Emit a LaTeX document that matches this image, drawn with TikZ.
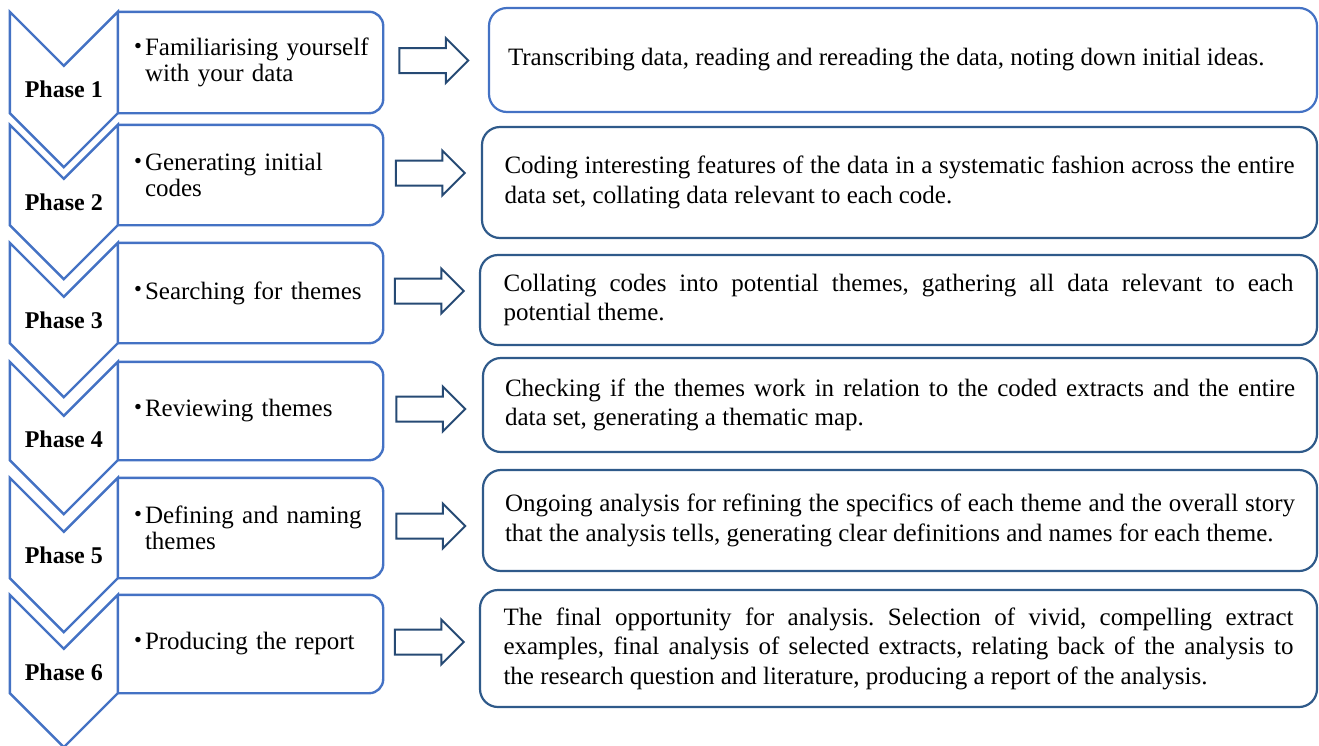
\documentclass[tikz,border=0pt]{standalone}
\usepackage{fontspec}
\setmainfont{Liberation Serif}
\usetikzlibrary{positioning,calc,shapes.arrows}
\definecolor{phaseblue}{RGB}{68,114,196}
\definecolor{taskblue}{RGB}{47,90,138}
\definecolor{arrowblue}{RGB}{38,74,116}
\newcommand{\stepitem}[1]{\hspace*{13.5pt}\makebox[11pt][l]{\raisebox{.1em}{\scalebox{.9}{\textbullet}}}\parbox[t]{230pt}{#1}}
\frenchspacing

\begin{document}
\begin{tikzpicture}[x=1pt, y=-1pt, font=\fontsize{25}{29.5}\selectfont]
  \tikzstyle{stepbox}=[rectangle, minimum width=265pt, text width=260pt, inner xsep=0pt, inner ysep=0pt, align=left, font=\fontsize{25}{26}\selectfont]
  \tikzstyle{stepframe}=[draw=phaseblue, line width=2.4pt, rounded corners=14pt]
  \tikzstyle{chevron}=[draw=phaseblue, line width=2.4pt, line join=miter, fill=white]
  \tikzstyle{phaselabel}=[font=\fontsize{24}{26}\selectfont\bfseries, inner sep=0pt]
  \tikzstyle{taskbox}=[rectangle, draw=taskblue, line width=2.2pt, rounded corners=18pt, text width=790pt, align=justify, inner sep=0pt]
  \tikzstyle{blockarrow}=[single arrow, draw=arrowblue, line width=2pt, fill=white, minimum height=69pt, inner xsep=0pt, inner ysep=11.5pt, single arrow head extend=10pt, xshift=-8pt, yshift=2pt]
  \useasboundingbox (0,0) rectangle (1319,745);

  \node[stepbox, minimum height=101pt] (s1) at (250.5,62.5) {\stepitem{Familiarising yourself\\with your data}};
  \node[stepbox, minimum height=100pt] (s2) at (250.5,175) {\stepitem{Generating initial\\codes}};
  \node[stepbox, minimum height=100pt] (s3) at (250.5,293) {\stepitem{Searching for themes}};
  \node[stepbox, minimum height=98pt] (s4) at (250.5,411) {\stepitem{Reviewing themes}};
  \node[stepbox, minimum height=100pt] (s5) at (250.5,528) {\stepitem{Defining and naming\\themes}};
  \node[stepbox, minimum height=98pt] (s6) at (250.5,644) {\stepitem{Producing the report}};

  \draw[stepframe] (s1.north west) -- (s1.north east) -- (s1.south east) -- (s1.south west);
  \draw[stepframe] (s2.north west) -- (s2.north east) -- (s2.south east) -- (s2.south west);
  \draw[stepframe] (s3.north west) -- (s3.north east) -- (s3.south east) -- (s3.south west);
  \draw[stepframe] (s4.north west) -- (s4.north east) -- (s4.south east) -- (s4.south west);
  \draw[stepframe] (s5.north west) -- (s5.north east) -- (s5.south east) -- (s5.south west);
  \draw[stepframe] (s6.north west) -- (s6.north east) -- (s6.south east) -- (s6.south west);

  \draw[chevron] (s1.north west) -- ++(-54,54) -- ++(-54,-54) -- ($(s1.south west)+(-108,0)$) -- ++(54,54) -- (s1.south west) -- cycle;
  \draw[chevron] (s2.north west) -- ++(-54,54) -- ++(-54,-54) -- ($(s2.south west)+(-108,0)$) -- ++(54,54) -- (s2.south west) -- cycle;
  \draw[chevron] (s3.north west) -- ++(-54,54) -- ++(-54,-54) -- ($(s3.south west)+(-108,0)$) -- ++(54,54) -- (s3.south west) -- cycle;
  \draw[chevron] (s4.north west) -- ++(-54,54) -- ++(-54,-54) -- ($(s4.south west)+(-108,0)$) -- ++(54,54) -- (s4.south west) -- cycle;
  \draw[chevron] (s5.north west) -- ++(-54,54) -- ++(-54,-54) -- ($(s5.south west)+(-108,0)$) -- ++(54,54) -- (s5.south west) -- cycle;
  \draw[chevron] (s6.north west) -- ++(-54,54) -- ++(-54,-54) -- ($(s6.south west)+(-108,0)$) -- ++(54,54) -- (s6.south west) -- cycle;

  \node[phaselabel] (ph1) at ($(s1.north west)+(-54,77)$) {Phase 1};
  \node[phaselabel] (ph2) at ($(s2.north west)+(-54,77)$) {Phase 2};
  \node[phaselabel] (ph3) at ($(s3.north west)+(-54,77)$) {Phase 3};
  \node[phaselabel] (ph4) at ($(s4.north west)+(-54,77)$) {Phase 4};
  \node[phaselabel] (ph5) at ($(s5.north west)+(-54,77)$) {Phase 5};
  \node[phaselabel] (ph6) at ($(s6.north west)+(-54,77)$) {Phase 6};

  \node[taskbox, draw=phaseblue, minimum width=828pt, minimum height=104pt] (d1) at (903,60) {Transcribing data, reading and rereading the data, noting down initial ideas.};
  \node[taskbox, minimum width=835pt, minimum height=111pt] (d2) at (899.5,182.5) {Coding interesting features of the data in a systematic fashion across the entire\linebreak data set, collating data relevant to each code.};
  \node[taskbox, minimum width=837pt, minimum height=90pt] (d3) at (898.5,300) {Collating codes into potential themes, gathering all data relevant to each\linebreak potential theme.};
  \node[taskbox, minimum width=834pt, minimum height=94pt] (d4) at (900,405) {Checking if the themes work in relation to the coded extracts and the entire\linebreak data set, generating a thematic map.};
  \node[taskbox, minimum width=834pt, minimum height=101pt] (d5) at (900,520.5) {Ongoing analysis for refining the specifics of each theme and the overall story\linebreak that the analysis tells, generating clear definitions and names for each theme.};
  \node[taskbox, minimum width=837pt, minimum height=117pt] (d6) at (898.5,648.5) {The final opportunity for analysis. Selection of vivid, compelling extract\linebreak examples, final analysis of selected extracts, relating back of the analysis to\linebreak the research question and literature, producing a report of the analysis.};

  \node[blockarrow] (a1) at ($(s1.east)!0.5!(s1.east -| d1.west)$) {};
  \node[blockarrow] (a2) at ($(s2.east)!0.5!(s2.east -| d2.west)$) {};
  \node[blockarrow] (a3) at ($(s3.east)!0.5!(s3.east -| d3.west)$) {};
  \node[blockarrow] (a4) at ($(s4.east)!0.5!(s4.east -| d4.west)$) {};
  \node[blockarrow] (a5) at ($(s5.east)!0.5!(s5.east -| d5.west)$) {};
  \node[blockarrow] (a6) at ($(s6.east)!0.5!(s6.east -| d6.west)$) {};
\end{tikzpicture}
\end{document}
